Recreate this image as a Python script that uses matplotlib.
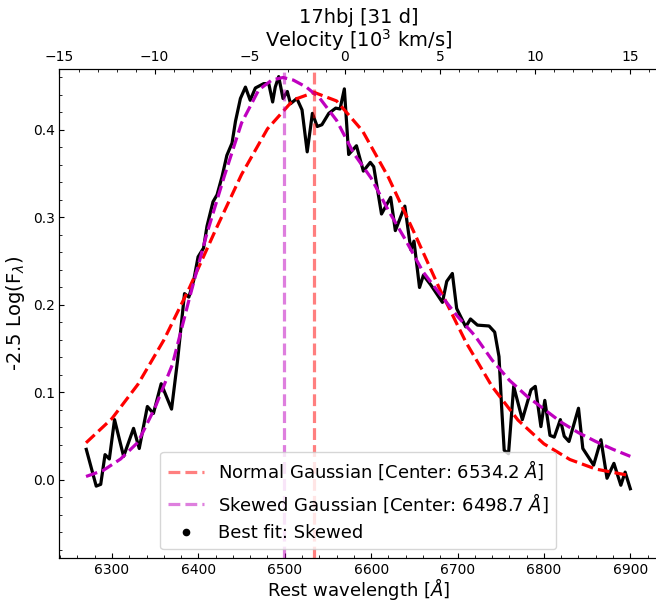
import numpy as np
import matplotlib
matplotlib.use("Agg")
import matplotlib.pyplot as plt
from matplotlib.ticker import AutoMinorLocator

wave_obs = [6270.3, 6281.8, 6287, 6292, 6297, 6303, 6313.5, 6325, 6331.6, 6341,
            6348, 6357, 6369, 6376, 6384, 6389, 6394.6, 6399.7, 6406, 6410,
            6417, 6421.7, 6427.5, 6433, 6439, 6443, 6448.7, 6454.5, 6460, 6466,
            6475.7, 6481.5, 6486, 6489, 6493, 6498, 6503, 6506.7, 6514, 6520,
            6526, 6532, 6537.6, 6543, 6551, 6559, 6564, 6569, 6574, 6583,
            6591, 6599, 6603, 6612, 6622.6, 6628, 6639, 6646, 6649.6, 6656,
            6660.5, 6669, 6682.5, 6687.5, 6694, 6699, 6709.5, 6715, 6723, 6736.5,
            6743, 6748, 6751, 6754, 6759, 6765, 6775, 6785, 6790, 6796.5,
            6801, 6807, 6812, 6819, 6823.5, 6829, 6840, 6845, 6857.5, 6866,
            6873, 6881, 6889, 6894, 6900]
flux_obs = [0.035, -0.007, -0.005, 0.029, 0.024, 0.069, 0.027, 0.059, 0.036, 0.084,
            0.076, 0.110, 0.081, 0.137, 0.213, 0.209, 0.228, 0.255, 0.265, 0.290,
            0.318, 0.326, 0.347, 0.371, 0.385, 0.410, 0.436, 0.449, 0.434, 0.448,
            0.453, 0.453, 0.432, 0.449, 0.461, 0.436, 0.444, 0.430, 0.436, 0.423,
            0.375, 0.419, 0.404, 0.406, 0.419, 0.425, 0.424, 0.447, 0.372, 0.382,
            0.353, 0.363, 0.358, 0.304, 0.323, 0.285, 0.313, 0.263, 0.273, 0.220,
            0.234, 0.223, 0.203, 0.227, 0.236, 0.196, 0.175, 0.184, 0.177, 0.176,
            0.169, 0.141, 0.084, 0.034, 0.030, 0.107, 0.069, 0.103, 0.107, 0.061,
            0.091, 0.051, 0.049, 0.069, 0.050, 0.044, 0.082, 0.036, 0.017, 0.046,
            0.002, 0.019, -0.006, 0.009, -0.010]

# normal gaussian fit curve
wave_norm = [6270, 6300, 6330, 6360, 6390, 6420, 6450, 6480, 6510, 6534, 6560,
             6590, 6620, 6650, 6680, 6710, 6740, 6770, 6800, 6830, 6860, 6900]
flux_norm = [0.0425, 0.0702, 0.1092, 0.1598, 0.2203, 0.2859, 0.3491, 0.4013, 0.4344,
             0.443, 0.4332, 0.399, 0.3459, 0.2823, 0.2169, 0.1569, 0.1068, 0.0684,
             0.0413, 0.0234, 0.0125, 0.0049]

# skewed gaussian fit curve
wave_skew = [6270, 6290, 6310, 6330, 6350, 6370, 6390, 6410, 6430, 6450, 6470,
             6485, 6498, 6510, 6525, 6540, 6560, 6580, 6600, 6620, 6640, 6660,
             6680, 6700, 6720, 6740, 6760, 6780, 6800, 6820, 6840, 6860, 6880, 6900]
flux_skew = [0.004, 0.011, 0.024, 0.043, 0.083, 0.132, 0.209, 0.282, 0.347, 0.408,
             0.446, 0.457, 0.460, 0.457, 0.449, 0.437, 0.411, 0.373, 0.345, 0.308,
             0.274, 0.238, 0.212, 0.187, 0.165, 0.137, 0.114, 0.096, 0.081, 0.066,
             0.054, 0.044, 0.035, 0.027]

center_norm = 6534.2
center_skew = 6498.7

fig = plt.figure(figsize=(6.56, 6.0), dpi=100)
ax = fig.add_axes([0.0907, 0.0695, 0.911, 0.8155])

ax.plot(wave_obs, flux_obs, color='k', lw=2.3)
ax.plot(wave_norm, flux_norm, color='r', ls='--', lw=2.3)
ax.plot(wave_skew, flux_skew, color='m', ls='--', lw=2.3)
ax.axvline(center_norm, color='r', alpha=0.5, ls='--', lw=2.3,
           label=r'Normal Gaussian [Center: %.1f $\AA$]' % center_norm)
ax.axvline(center_skew, color='m', alpha=0.5, ls='--', lw=2.3,
           label=r'Skewed Gaussian [Center: %.1f $\AA$]' % center_skew)
ax.plot([], [], 'k.', ms=9, label='Best fit: Skewed')

ax.set_xlim(6239.3, 6931)
ax.set_ylim(-0.0895, 0.4697)
ax.set_xlabel(r'Rest wavelength [$\AA$]', fontsize=13, labelpad=-0.5)
ax.set_ylabel(r'-2.5 Log(F$_\lambda$)', fontsize=14)
ax.xaxis.set_minor_locator(AutoMinorLocator())
ax.yaxis.set_minor_locator(AutoMinorLocator())
ax.tick_params(which='both', direction='in', labelsize=10)
ax.legend(loc='lower center', fontsize=13)

ax2 = ax.twiny()
ax2.set_xlim(-15, 16.41)
ax2.xaxis.set_minor_locator(AutoMinorLocator())
ax2.tick_params(which='both', direction='in', labelsize=10)
ax2.set_xlabel(r'Velocity [10$^3$ km/s]', fontsize=14, labelpad=2.5)
ax2.set_title('17hbj [31 d]', fontsize=14, pad=0)

fig.savefig('out.png', dpi=100)
